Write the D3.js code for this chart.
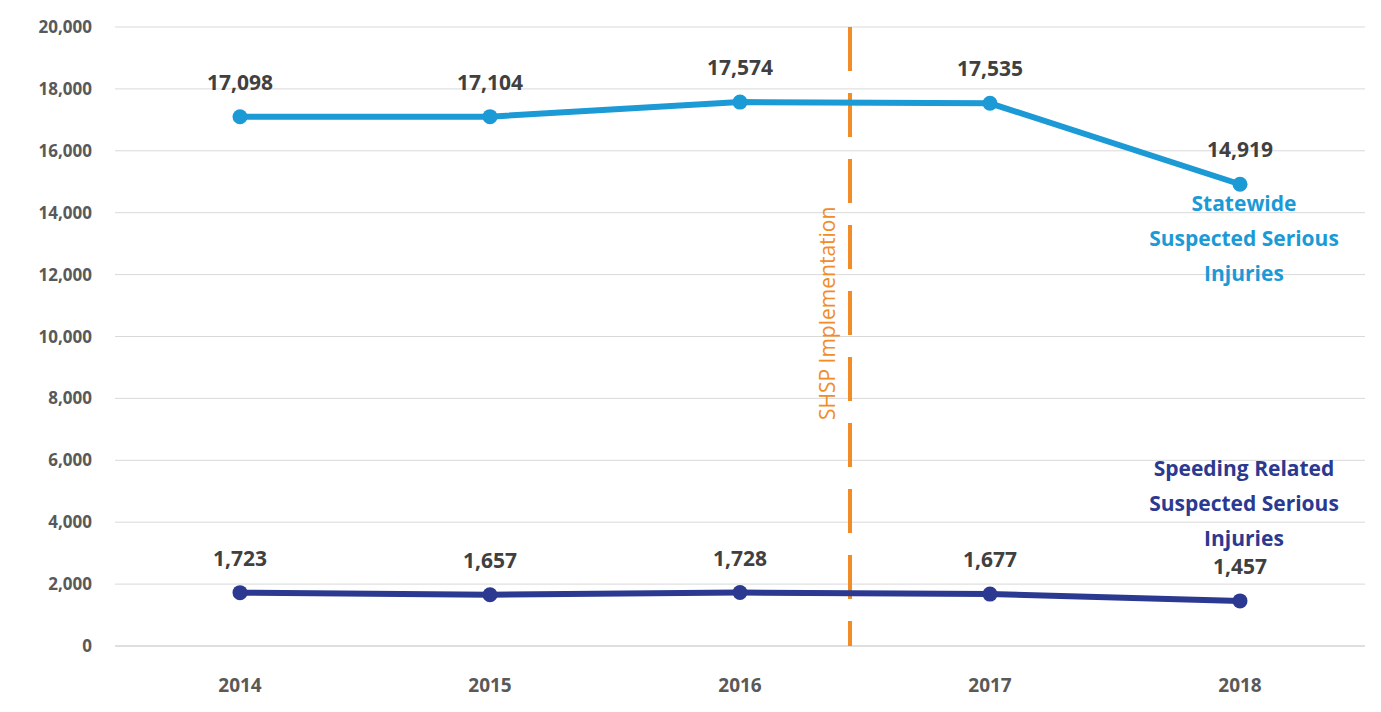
<!DOCTYPE html>
<html><head><meta charset="utf-8">
<script src="https://cdn.jsdelivr.net/npm/d3@7"></script>
<style>body{margin:0;background:#fff}text{font-family:"Open Sans","Liberation Sans",sans-serif}</style>
</head><body><svg id="c" width="1381" height="712"></svg>
<script>
const years = ["2014","2015","2016","2017","2018"];
const statewide = [17098,17104,17574,17535,14919];
const speeding = [1723,1657,1728,1677,1457];
const yTicks = [0,2000,4000,6000,8000,10000,12000,14000,16000,18000,20000];

const svg = d3.select("#c");
const x = d3.scalePoint().domain(years).range([240,1240]);
const y = d3.scaleLinear().domain([0,20000]).range([646,27]);
const xl = 115, xr = 1365;

svg.append("g").selectAll("line").data(yTicks).join("line")
  .attr("x1",xl).attr("x2",xr).attr("y1",d=>y(d)).attr("y2",d=>y(d))
  .attr("stroke",d=>d===0?"#bfbfbf":"#d9d9d9").attr("stroke-width",1);
svg.append("g").selectAll("text").data(yTicks).join("text")
  .attr("x",92).attr("y",d=>y(d)+6).attr("text-anchor","end")
  .attr("font-size",17).attr("font-weight","bold").attr("fill","#595959")
  .text(d=>d3.format(",")(d));
svg.append("g").selectAll("text").data(years).join("text")
  .attr("x",d=>x(d)).attr("y",692).attr("text-anchor","middle")
  .attr("font-size",19).attr("font-weight","bold").attr("fill","#595959").text(d=>d);

// SHSP line
const sx = 850;
svg.append("line").attr("x1",sx).attr("x2",sx).attr("y1",27).attr("y2",646)
  .attr("stroke","#f28c28").attr("stroke-width",4).attr("stroke-dasharray","44,22");
svg.append("text").attr("transform",`translate(${sx-15},${y(7300)}) rotate(-90)`)
  .attr("font-size",21).attr("fill","#f28c28").text("SHSP Implementation");

function series(vals,color){
  const line = d3.line().x((d,i)=>x(years[i])).y(d=>y(d));
  svg.append("path").datum(vals).attr("d",line).attr("fill","none")
    .attr("stroke",color).attr("stroke-width",6);
  svg.append("g").selectAll("circle").data(vals).join("circle")
    .attr("cx",(d,i)=>x(years[i])).attr("cy",d=>y(d)).attr("r",7.5).attr("fill",color);
  svg.append("g").selectAll("text").data(vals).join("text")
    .attr("x",(d,i)=>x(years[i])).attr("y",d=>y(d)-27).attr("text-anchor","middle")
    .attr("font-size",21).attr("font-weight","bold").attr("fill","#404040")
    .text(d=>d3.format(",")(d));
}
series(statewide,"#1b9ad6");
series(speeding,"#2b3990");

function label(lines,cx,y0,color){
  svg.append("g").selectAll("text").data(lines).join("text")
    .attr("x",cx).attr("y",(d,i)=>y0+i*35).attr("text-anchor","middle")
    .attr("font-size",21).attr("font-weight","bold").attr("fill",color).text(d=>d);
}
label(["Statewide","Suspected Serious","Injuries"],1244,211,"#1b9ad6");
label(["Speeding Related","Suspected Serious","Injuries"],1244,476,"#2b3990");
</script></body></html>
